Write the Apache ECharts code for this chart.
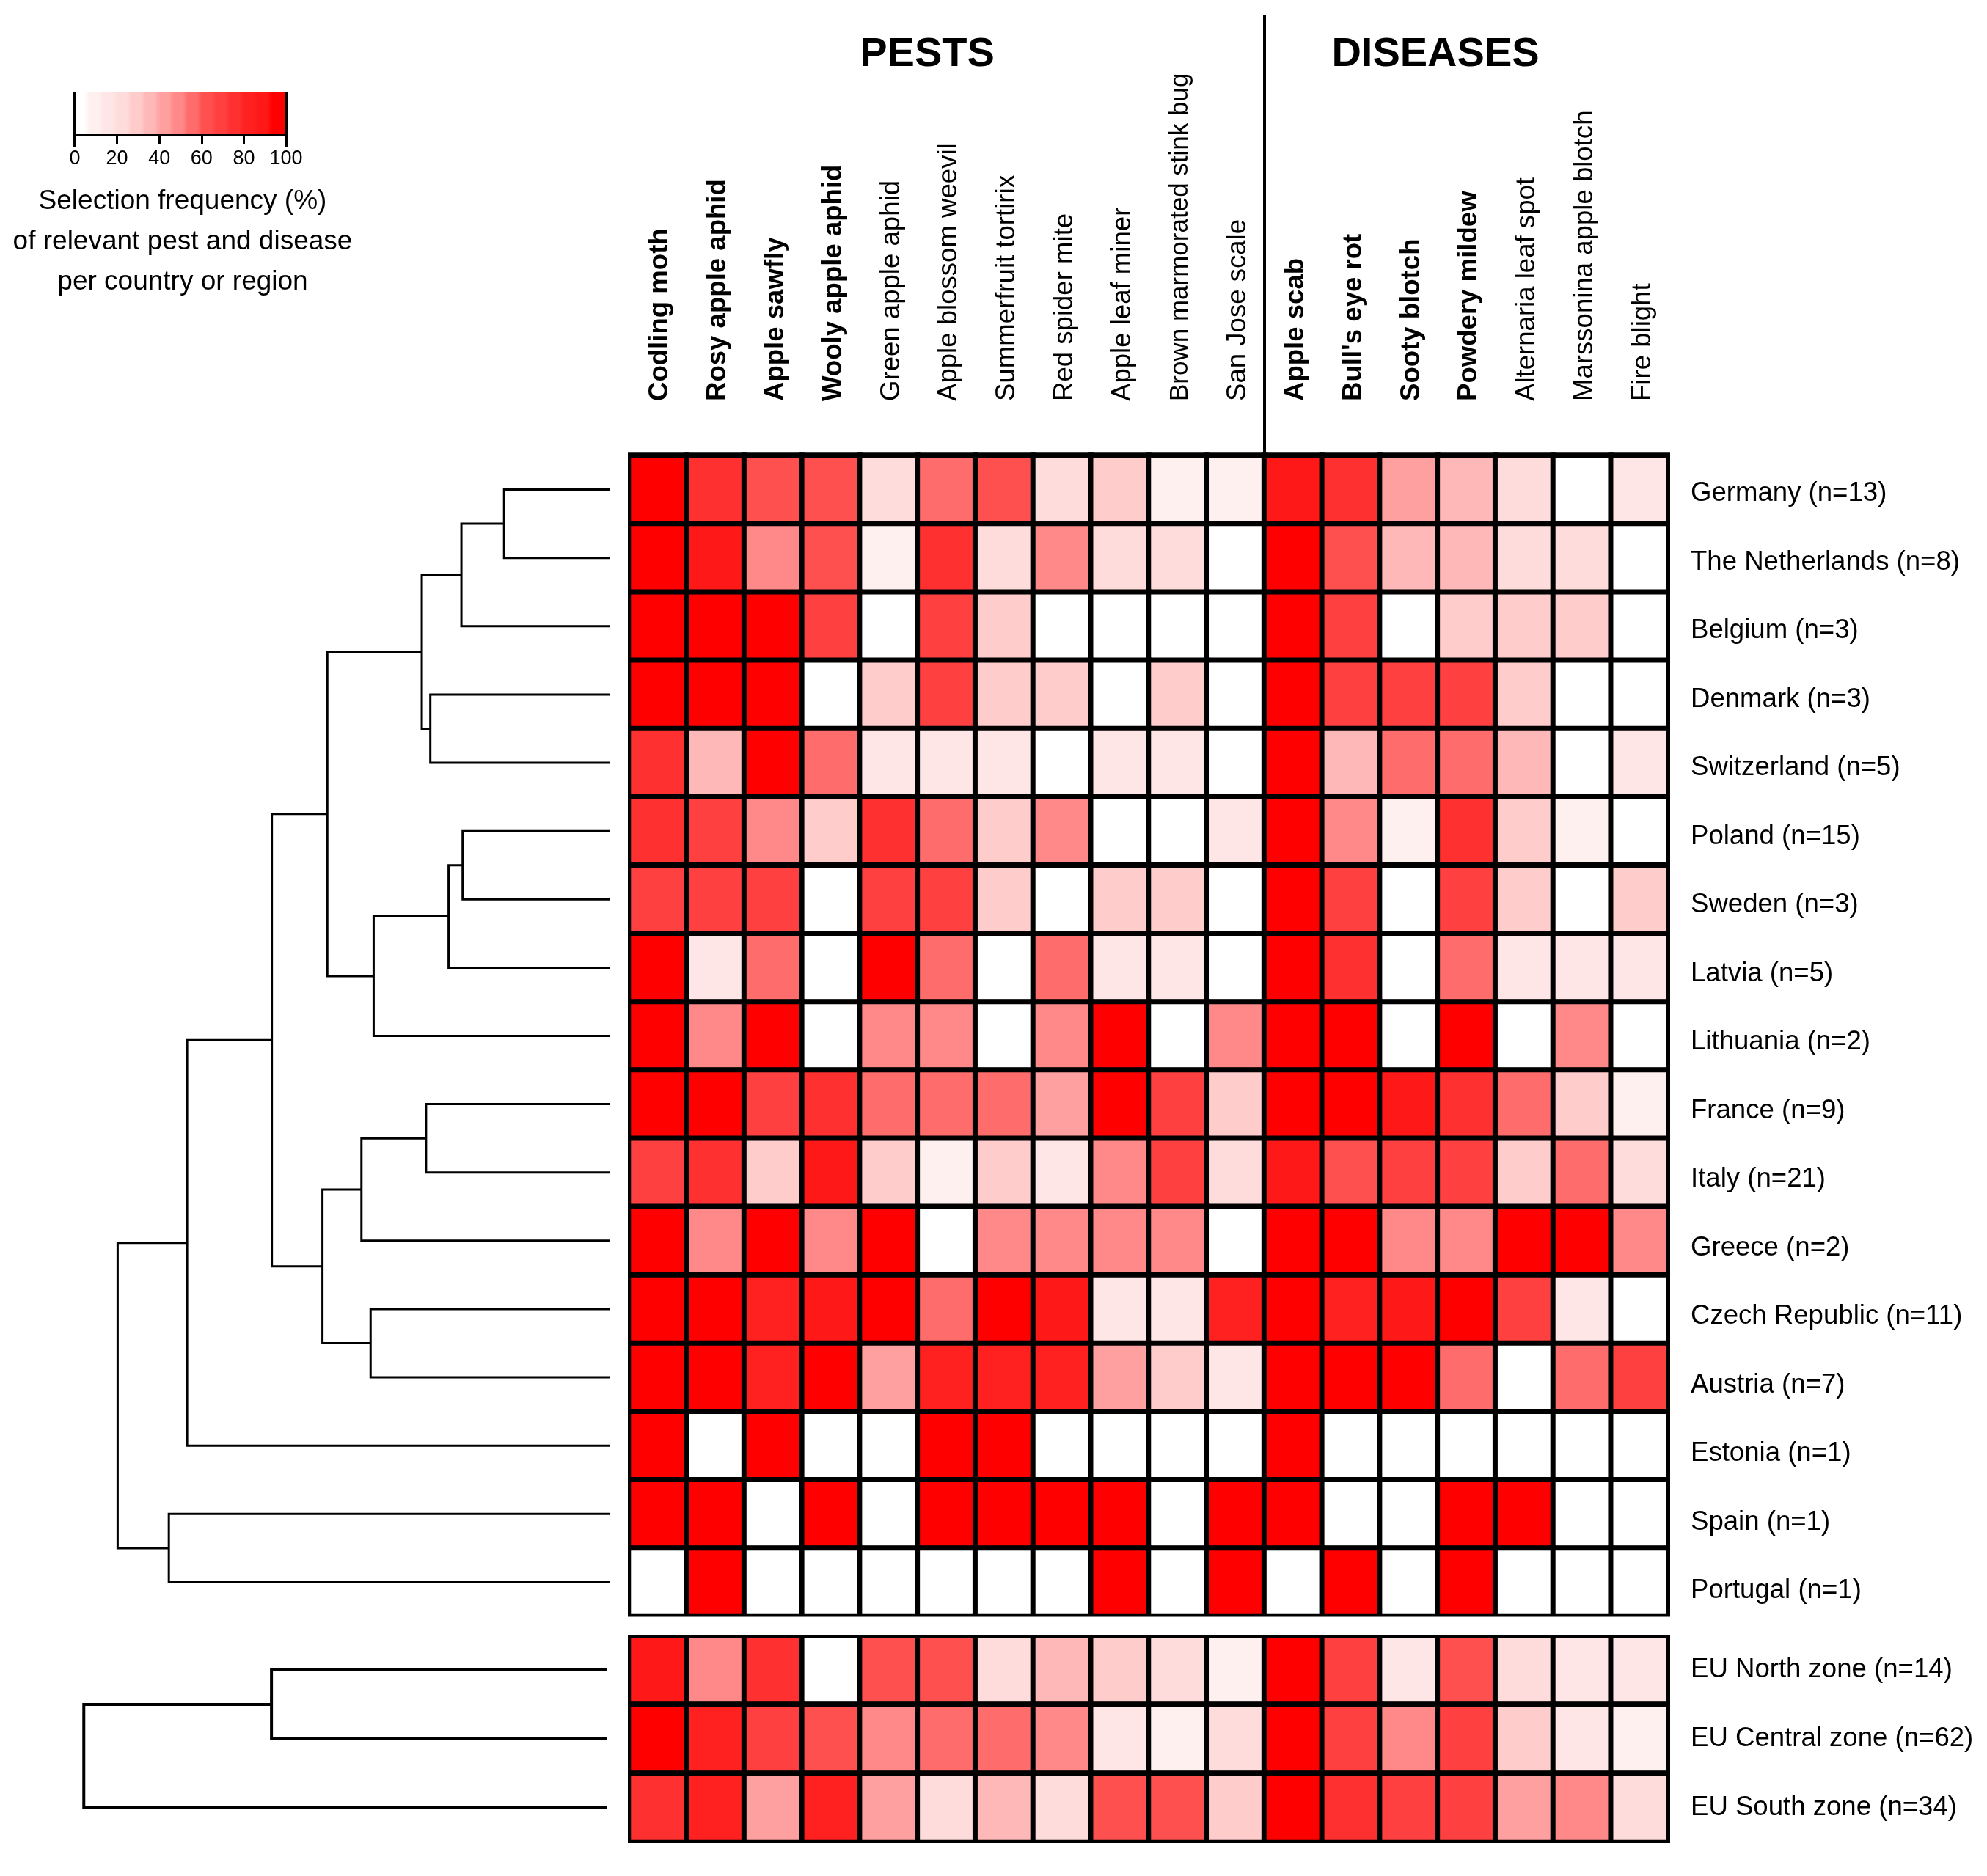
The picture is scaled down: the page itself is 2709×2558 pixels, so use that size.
<!DOCTYPE html>
<html>
<head>
<meta charset="utf-8">
<style>html,body{margin:0;padding:0;background:#fff}#c{width:2709px;height:2558px}</style>
<script src="https://cdn.jsdelivr.net/npm/echarts@6/dist/echarts.min.js"></script>
</head>
<body>
<div id="c"></div>
<script>
const pests = ["Codling moth","Rosy apple aphid","Apple sawfly","Wooly apple aphid","Green apple aphid","Apple blossom weevil","Summerfruit tortirix","Red spider mite","Apple leaf miner","Brown marmorated stink bug","San Jose scale"];
const diseases = ["Apple scab","Bull's eye rot","Sooty blotch","Powdery mildew","Alternaria leaf spot","Marssonina apple blotch","Fire blight"];
const boldColumns = ["Codling moth","Rosy apple aphid","Apple sawfly","Wooly apple aphid","Apple scab","Bull's eye rot","Sooty blotch","Powdery mildew"];
const countries = ["Germany (n=13)","The Netherlands (n=8)","Belgium (n=3)","Denmark (n=3)","Switzerland (n=5)","Poland (n=15)","Sweden (n=3)","Latvia (n=5)","Lithuania (n=2)","France (n=9)","Italy (n=21)","Greece (n=2)","Czech Republic (n=11)","Austria (n=7)","Estonia (n=1)","Spain (n=1)","Portugal (n=1)"];
const zones = ["EU North zone (n=14)","EU Central zone (n=62)","EU South zone (n=34)"];

const germany     = [100,77,63,63,23,57,63,23,30,10,10,90,77,43,37,23,0,17];
const netherlands = [100,90,50,63,10,77,23,50,23,23,0,100,63,37,37,23,23,0];
const belgium     = [100,100,100,70,0,70,30,0,0,0,0,100,70,0,30,30,30,0];
const denmark     = [100,100,100,0,30,70,30,30,0,30,0,100,70,70,70,30,0,0];
const switzerland = [77,37,100,57,17,17,17,0,17,17,0,100,37,57,57,37,0,17];
const poland      = [77,70,50,30,77,57,30,50,0,0,17,100,50,10,77,30,10,0];
const sweden      = [70,70,70,0,70,70,30,0,30,30,0,100,70,0,70,30,0,30];
const latvia      = [100,17,57,0,100,57,0,57,17,17,0,100,77,0,57,17,17,17];
const lithuania   = [100,50,100,0,50,50,0,50,100,0,50,100,100,0,100,0,50,0];
const france      = [100,100,70,77,57,57,57,43,100,70,30,100,100,90,77,57,30,10];
const italy       = [70,77,30,90,30,10,30,17,50,70,23,90,63,70,70,30,57,23];
const greece      = [100,50,100,50,100,0,50,50,50,50,0,100,100,50,50,100,100,50];
const czech       = [100,100,83,90,100,57,100,90,17,17,83,100,83,90,100,70,17,0];
const austria     = [100,100,83,100,43,83,83,83,43,30,17,100,100,100,57,0,57,70];
const estonia     = [100,0,100,0,0,100,100,0,0,0,0,100,0,0,0,0,0,0];
const spain       = [100,100,0,100,0,100,100,100,100,0,100,100,0,0,100,100,0,0];
const portugal    = [0,100,0,0,0,0,0,0,100,0,100,0,100,0,100,0,0,0];
const euNorth     = [90,50,77,0,63,63,23,37,30,23,10,100,70,17,63,23,17,17];
const euCentral   = [100,83,70,63,50,57,57,50,17,10,23,100,70,50,70,30,17,10];
const euSouth     = [77,83,43,83,43,23,37,23,63,63,30,100,77,70,70,43,50,23];

// colour key: band lower edges and their colours
const bandEdges  = [0,6.67,13.33,20,26.67,33.33,40,46.67,53.33,60,66.67,73.33,80,86.67,93.33,100];
const bandColors = ["#ffffff","#fff0f0","#ffe6e6","#ffdcdc","#ffcccc","#ffb8b8","#ffa0a0","#ff8888","#ff6c6c","#ff5050","#ff4040","#ff3030","#ff2020","#ff1818","#ff0000"];
const keyTicks = [0,100];

// dendrograms: [childA, childB, height]; child >= 0 is a row, child < 0 is merge number
const countryMerges = [[0,1,17.3],[-1,2,24.3],[3,4,29.4],[-2,-3,30.8],[5,6,24.1],[-5,7,26.4],[-6,8,38.7],[-4,-7,46.3],[9,10,30.1],[-9,11,40.7],[12,13,39.2],[-10,-11,47.1],[-8,-12,55.4],[-13,14,69.3],[15,16,72.3],[-14,-15,80.7]];
const zoneMerges = [[0,1,55.3],[-1,2,86.2]];

const columns = pests.concat(diseases);
const countryRows = [germany,netherlands,belgium,denmark,switzerland,poland,sweden,latvia,lithuania,france,italy,greece,czech,austria,estonia,spain,portugal];
const zoneRows = [euNorth,euCentral,euSouth];

function cells(rows){const out=[];rows.forEach((r,y)=>r.forEach((v,x)=>out.push([x,y,v])));return out;}
function links(merges){
  const nodes=[];const out=[];
  merges.forEach(m=>{
    const a=m[0]>=0?{y:m[0],h:0}:nodes[-m[0]-1];
    const b=m[1]>=0?{y:m[1],h:0}:nodes[-m[1]-1];
    nodes.push({y:(a.y+b.y)/2,h:m[2]});
    out.push([m[2],a.y,b.y,a.h,b.h]);
  });
  return out;
}
function treeSeries(xi,yi,data,w){
  return {type:'custom',xAxisIndex:xi,yAxisIndex:yi,clip:false,silent:true,data:data,encode:{x:0,y:1},z:3,
    renderItem:(p,api)=>{
      const h=api.value(0),ya=api.value(1),yb=api.value(2),ha=api.value(3),hb=api.value(4);
      return {type:'polyline',shape:{points:[api.coord([ha,ya]),api.coord([h,ya]),api.coord([h,yb]),api.coord([hb,yb])]},
        style:{stroke:'#000',lineWidth:w,fill:null}};
    }};
}
function heat(xi,yi,data){
  return {type:'heatmap',xAxisIndex:xi,yAxisIndex:yi,data:data,silent:true,
    itemStyle:{borderColor:'#000',borderWidth:7},emphasis:{disabled:true},progressive:0};
}
const FONT='"Liberation Sans", Arial, sans-serif';
function txt(text,x,y,size,weight){
  return {text:text,left:x,top:y,padding:0,textAlign:'center',textVerticalAlign:'middle',
    textStyle:{color:'#000',fontSize:size,fontWeight:weight,fontFamily:FONT}};
}
function mask(x,y,w,h){return {type:'rect',shape:{x:x,y:y,width:w,height:h},style:{fill:'#fff'},z:6};}
const keyBands = bandColors.map((c,i)=>[bandEdges[i],bandEdges[i+1],i]);

const option={
  animation:false,backgroundColor:'#fff',
  title:[
    txt('PESTS',1264,75,56,'bold'),
    txt('DISEASES',1957,75,56,'bold'),
    txt('Selection frequency (%)',249,275,37,'normal'),
    txt('of relevant pest and disease',249,330,37,'normal'),
    txt('per country or region',249,385,37,'normal')
  ],
  graphic:[
    {type:'line',shape:{x1:1724,y1:20,x2:1724,y2:620},style:{stroke:'#000',lineWidth:4},z:5},
    mask(851,612,5,1600),mask(851,2222,5,300),
    mask(850,2204.5,1440,4.5),mask(850,2224,1440,5),mask(850,2513,1440,5),mask(2277,612,4,1910)
  ],
  visualMap:{type:'piecewise',show:false,seriesIndex:[0,1],dimension:2,
    pieces:bandColors.map((c,i)=>i===14?{gte:bandEdges[i],lte:100,color:c}:{gte:bandEdges[i],lt:bandEdges[i+1],color:c})},
  grid:[
    {left:857,top:621,width:1418,height:1583},
    {left:857,top:2230,width:1418,height:282},
    {left:0,top:621,width:831,height:1583},
    {left:0,top:2230,width:828,height:282},
    {left:102,top:126,width:288,height:57},
    {left:861,top:626.3,width:1418,height:1589.5}
  ],
  xAxis:[
    {type:'category',gridIndex:0,data:columns,show:false},
    {type:'category',gridIndex:1,data:columns,show:false},
    {type:'value',gridIndex:2,min:0,max:100,inverse:true,show:false},
    {type:'value',gridIndex:3,min:0,max:100,inverse:true,show:false},
    {type:'value',gridIndex:4,min:0,max:100,interval:20,position:'bottom',splitLine:{show:false},
      axisLine:{show:true,onZero:false,lineStyle:{color:'#000',width:3}},
      axisTick:{show:true,length:13,lineStyle:{color:'#000',width:3}},
      axisLabel:{margin:20,fontSize:27,color:'#000',fontFamily:FONT,showMinLabel:true,showMaxLabel:true}},
    {type:'category',gridIndex:5,position:'top',data:columns.map(c=>({value:c,textStyle:{fontWeight:boldColumns.includes(c)?'bold':'normal',fontSize:c==='Brown marmorated stink bug'?35:36.6}})),
      axisLine:{show:false},axisTick:{show:false},splitLine:{show:false},
      axisLabel:{rotate:-90,interval:0,margin:79.3,fontSize:36.6,color:'#000',fontFamily:FONT}}
  ],
  yAxis:[
    {type:'category',gridIndex:0,inverse:true,data:countries,show:false},
    {type:'category',gridIndex:1,position:'right',inverse:true,data:zones,
      axisLine:{show:false},axisTick:{show:false},splitLine:{show:false},
      axisLabel:{interval:0,margin:30,fontSize:36.6,color:'#000',fontFamily:FONT}},
    {type:'value',gridIndex:2,min:-0.5,max:16.5,inverse:true,show:false},
    {type:'value',gridIndex:3,min:-0.5,max:2.5,inverse:true,show:false},
    {type:'value',gridIndex:4,min:0,max:1,show:false},
    {type:'category',gridIndex:5,position:'right',inverse:true,data:countries,
      axisLine:{show:false},axisTick:{show:false},splitLine:{show:false},
      axisLabel:{interval:0,margin:26,fontSize:36.6,color:'#000',fontFamily:FONT}}
  ],
  series:[
    heat(0,0,cells(countryRows)),
    heat(1,1,cells(zoneRows)),
    treeSeries(2,2,links(countryMerges),3),
    treeSeries(3,3,links(zoneMerges),4),
    {type:'custom',xAxisIndex:4,yAxisIndex:4,silent:true,clip:false,data:keyBands,encode:{x:[0,1]},z:2,
      renderItem:(p,api)=>{
        const a=api.coord([api.value(0),1]),b=api.coord([api.value(1),0]),i=api.value(2);
        const c=bandColors[i],n=bandColors[Math.min(i+1,14)];
        return {type:'rect',shape:{x:a[0],y:a[1],width:b[0]-a[0]+0.5,height:b[1]-a[1]},
          style:{fill:new echarts.graphic.LinearGradient(0,0,1,0,[{offset:0,color:c},{offset:0.65,color:c},{offset:1,color:n}])}};
      }},
    {type:'custom',xAxisIndex:4,yAxisIndex:4,silent:true,clip:false,data:keyTicks.map(v=>[v]),encode:{x:0},z:4,
      renderItem:(p,api)=>{
        const a=api.coord([api.value(0),1]),b=api.coord([api.value(0),-0.3]);
        return {type:'line',shape:{x1:a[0],y1:a[1],x2:b[0],y2:b[1]},style:{stroke:'#000',lineWidth:4}};
      }}
  ]
};
const chart=echarts.init(document.getElementById('c'),null,{width:2709,height:2558,renderer:'canvas'});
chart.setOption(option);
</script>
</body>
</html>
